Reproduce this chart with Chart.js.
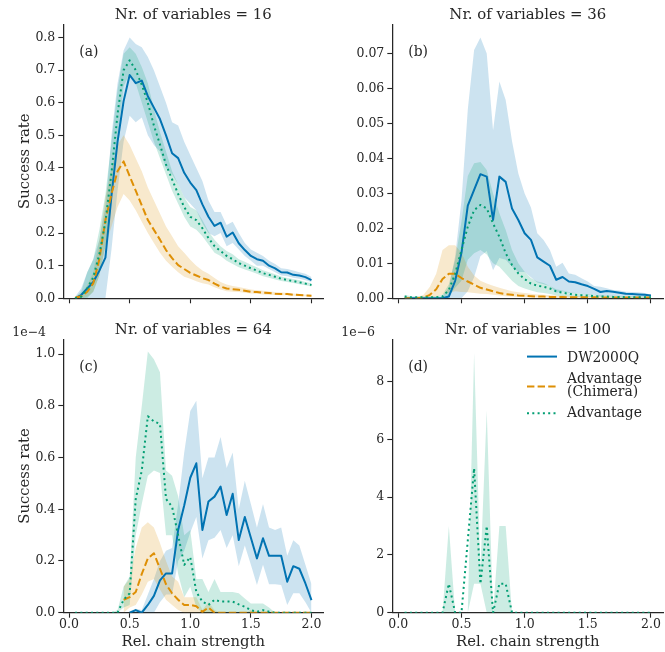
<!DOCTYPE html>
<html><head><meta charset="utf-8">
<script src="https://cdn.jsdelivr.net/npm/chart.js@4.4.1/dist/chart.umd.min.js"></script>
<style>
html,body{margin:0;padding:0;background:#fff;}
#wrap{position:relative;width:665px;height:652px;overflow:hidden;background:#fff;}
canvas{position:absolute;}
</style></head><body>
<div id="wrap">
<canvas id="ca" width="330" height="315" style="left:0;top:0;width:330px;height:315px"></canvas>
<canvas id="cb" width="335" height="315" style="left:330px;top:0;width:335px;height:315px"></canvas>
<canvas id="cc" width="330" height="337" style="left:0;top:315px;width:330px;height:337px"></canvas>
<canvas id="cd" width="335" height="337" style="left:330px;top:315px;width:335px;height:337px"></canvas>
</div>
<script>
// ---------- data ----------
const strengths = [0.05,0.10,0.15,0.20,0.25,0.30,0.35,0.40,0.45,0.50,0.55,0.60,0.65,0.70,0.75,0.80,0.85,0.90,0.95,1.00,
                   1.05,1.10,1.15,1.20,1.25,1.30,1.35,1.40,1.45,1.50,1.55,1.60,1.65,1.70,1.75,1.80,1.85,1.90,1.95,2.00];
const xTicks = [0, 0.5, 1.0, 1.5, 2.0];
const yTicks16 = [0, 0.1, 0.2, 0.3, 0.4, 0.5, 0.6, 0.7, 0.8];
const yTicks36 = [0, 0.01, 0.02, 0.03, 0.04, 0.05, 0.06, 0.07];
const yTicks64 = [0, 0.2, 0.4, 0.6, 0.8, 1.0];      // x 1e-4
const yTicks100 = [0, 2, 4, 6, 8];                  // x 1e-6
const titles = ['Nr. of variables = 16', 'Nr. of variables = 36', 'Nr. of variables = 64', 'Nr. of variables = 100'];
const panelLabels = ['(a)', '(b)', '(c)', '(d)'];
const offsetTexts = ['', '', '1e\u22124', '1e\u22126'];
const seriesNames = [['DW2000Q'], ['Advantage', '(Chimera)'], ['Advantage']];

// N = 16
const dw16    = [0.000,0.010,0.030,0.050,0.085,0.125,0.315,0.480,0.605,0.685,0.660,0.668,0.620,0.585,0.550,0.500,0.445,0.430,0.385,0.355,0.332,0.288,0.250,0.222,0.232,0.189,0.202,0.169,0.148,0.130,0.120,0.115,0.100,0.092,0.080,0.079,0.072,0.070,0.065,0.056];
const dw16Lo  = [0.000,0.000,0.000,0.000,0.000,0.000,0.150,0.330,0.480,0.560,0.540,0.555,0.500,0.470,0.450,0.400,0.380,0.350,0.310,0.290,0.270,0.230,0.200,0.190,0.200,0.160,0.170,0.150,0.130,0.115,0.100,0.100,0.090,0.080,0.070,0.068,0.063,0.060,0.055,0.050];
const dw16Hi  = [0.005,0.030,0.080,0.120,0.180,0.280,0.500,0.660,0.760,0.800,0.780,0.770,0.740,0.700,0.650,0.600,0.540,0.530,0.480,0.440,0.400,0.360,0.300,0.265,0.265,0.225,0.235,0.200,0.170,0.150,0.140,0.130,0.115,0.105,0.092,0.090,0.085,0.080,0.075,0.065];
const chim16   = [0.002,0.006,0.020,0.046,0.120,0.240,0.320,0.390,0.420,0.375,0.330,0.285,0.240,0.210,0.180,0.148,0.123,0.102,0.090,0.078,0.070,0.062,0.056,0.045,0.036,0.030,0.028,0.026,0.023,0.020,0.019,0.017,0.016,0.014,0.013,0.013,0.011,0.010,0.009,0.008];
const chim16Lo = [0.000,0.000,0.005,0.020,0.070,0.160,0.220,0.280,0.320,0.300,0.270,0.235,0.200,0.170,0.140,0.115,0.097,0.080,0.066,0.060,0.052,0.046,0.042,0.034,0.027,0.022,0.020,0.019,0.017,0.015,0.014,0.012,0.011,0.010,0.009,0.009,0.008,0.007,0.006,0.005];
const chim16Hi = [0.005,0.012,0.040,0.080,0.180,0.310,0.400,0.470,0.500,0.470,0.430,0.390,0.340,0.300,0.260,0.220,0.190,0.160,0.140,0.118,0.100,0.085,0.075,0.062,0.050,0.042,0.038,0.035,0.031,0.027,0.025,0.023,0.021,0.019,0.018,0.017,0.015,0.013,0.012,0.011];
const adv16   = [0.000,0.005,0.030,0.065,0.135,0.235,0.385,0.565,0.700,0.730,0.700,0.655,0.600,0.530,0.472,0.410,0.365,0.320,0.280,0.250,0.240,0.215,0.185,0.160,0.145,0.130,0.120,0.108,0.100,0.092,0.085,0.077,0.072,0.066,0.060,0.056,0.053,0.049,0.045,0.041];
const adv16Lo = [0.000,0.000,0.000,0.020,0.070,0.160,0.300,0.480,0.650,0.690,0.660,0.600,0.540,0.480,0.430,0.380,0.330,0.290,0.250,0.220,0.210,0.190,0.165,0.140,0.130,0.115,0.105,0.095,0.088,0.082,0.075,0.068,0.063,0.058,0.053,0.050,0.047,0.043,0.040,0.036];
const adv16Hi = [0.003,0.020,0.080,0.120,0.210,0.320,0.480,0.640,0.750,0.770,0.750,0.710,0.660,0.580,0.510,0.450,0.390,0.350,0.310,0.280,0.270,0.240,0.205,0.180,0.160,0.145,0.135,0.120,0.112,0.103,0.095,0.086,0.080,0.074,0.067,0.062,0.059,0.055,0.050,0.046];

// N = 36
const dw36    = [0,0,0,0,0,0,0,0.0005,0.005,0.013,0.0265,0.031,0.0355,0.0348,0.0224,0.0348,0.0333,0.0257,0.0224,0.0186,0.0167,0.0117,0.0105,0.0093,0.0053,0.0061,0.0048,0.0046,0.0040,0.0035,0.0027,0.0018,0.0021,0.0019,0.0016,0.0013,0.0012,0.0011,0.0010,0.0008];
const dw36Lo  = [0,0,0,0,0,0,0,0,0,0,0.002,0.006,0.012,0.0135,0.008,0.0115,0.011,0.009,0.0075,0.0075,0.006,0.0045,0.004,0.0035,0.0016,0.002,0.0016,0.0015,0.0013,0.0011,0.0010,0.0006,0.0007,0.0006,0.0005,0.0005,0.0004,0.0004,0.0004,0.0003];
const dw36Hi  = [0,0,0,0,0,0,0.0005,0.003,0.012,0.028,0.054,0.071,0.0746,0.070,0.048,0.062,0.0567,0.045,0.0357,0.030,0.026,0.0186,0.0167,0.0138,0.009,0.0102,0.0071,0.0067,0.0057,0.0048,0.0035,0.0033,0.0029,0.0024,0.0022,0.0019,0.0018,0.0017,0.0015,0.0010];
const chim36   = [0,0,0,0.0002,0.0010,0.0026,0.0055,0.0070,0.0070,0.0058,0.0048,0.0039,0.0030,0.0025,0.0020,0.0015,0.0012,0.0010,0.0008,0.0007,0.0006,0.0005,0.0005,0.0004,0.0004,0.0004,0.0003,0.0003,0.0003,0.0003,0.0003,0.0002,0.0002,0.0002,0.0002,0.0002,0.0002,0.0002,0.0002,0.0002];
const chim36Lo = [0,0,0,0,0,0.0005,0.0010,0.0015,0.0020,0.0018,0.0017,0.0015,0.0013,0.0012,0.0010,0.0008,0.0006,0.0005,0.0004,0.0003,0.0003,0.0002,0.0002,0.0002,0.0001,0.0001,0.0001,0.0001,0.0001,0.0001,0.0001,0.0001,0.0001,0.0001,0.0001,0.0001,0.0001,0.0001,0.0001,0.0001];
const chim36Hi = [0,0,0.0003,0.0010,0.0033,0.0070,0.0138,0.0152,0.0152,0.0130,0.0090,0.0065,0.0050,0.0042,0.0036,0.0030,0.0025,0.0020,0.0017,0.0015,0.0013,0.0011,0.0010,0.0009,0.0008,0.0008,0.0007,0.0007,0.0006,0.0006,0.0006,0.0005,0.0005,0.0005,0.0005,0.0004,0.0004,0.0004,0.0004,0.0004];
const adv36   = [0.0005,0.0003,0.0003,0.0003,0.0003,0.0003,0.0005,0.0024,0.0070,0.0138,0.0205,0.0252,0.0267,0.0257,0.0214,0.0176,0.0129,0.0095,0.0071,0.0055,0.0042,0.0036,0.0033,0.0028,0.0020,0.0016,0.0013,0.0010,0.0009,0.0008,0.0006,0.0005,0.0005,0.0004,0.0004,0.0003,0.0003,0.0003,0.0003,0.0003];
const adv36Lo = [0,0,0,0,0,0,0,0.0005,0.003,0.005,0.011,0.0129,0.0138,0.0125,0.010,0.009,0.007,0.005,0.0035,0.0028,0.0022,0.0017,0.0015,0.0012,0.0008,0.0006,0.0005,0.0004,0.0003,0.0003,0.0002,0.0002,0.0002,0.0001,0.0001,0.0001,0.0001,0.0001,0.0001,0.0001];
const adv36Hi = [0.001,0.0006,0.0006,0.0006,0.0006,0.0006,0.001,0.004,0.011,0.022,0.035,0.0386,0.039,0.0367,0.030,0.0243,0.0195,0.0138,0.010,0.0076,0.0058,0.0048,0.0044,0.0035,0.0026,0.0022,0.0018,0.0015,0.0013,0.0012,0.0010,0.0009,0.0008,0.0007,0.0007,0.0006,0.0006,0.0005,0.0005,0.0005];

// N = 64 (values in units of 1e-4)
const dw64    = [null,null,null,null,null,null,null,null,null,0.000,0.010,0.000,0.030,0.065,0.125,0.152,0.152,0.320,0.415,0.522,0.578,0.320,0.430,0.449,0.488,0.378,0.460,0.281,0.370,0.290,0.210,0.288,0.220,0.220,0.220,0.120,0.180,0.170,0.113,0.049];
const dw64Lo  = [null,null,null,null,null,null,null,null,null,0,0,0,0,0,0.04,0.07,0.07,0.20,0.24,0.31,0.37,0.21,0.28,0.29,0.32,0.25,0.30,0.18,0.26,0.185,0.107,0.185,0.11,0.11,0.107,0.03,0.075,0.075,0.04,0.0];
const dw64Hi  = [null,null,null,null,null,null,null,null,null,0.005,0.015,0.01,0.07,0.13,0.20,0.24,0.25,0.42,0.62,0.78,0.82,0.52,0.60,0.60,0.68,0.56,0.62,0.40,0.51,0.42,0.33,0.42,0.33,0.32,0.33,0.22,0.28,0.26,0.185,0.11];
const chim64   = [null,null,null,null,null,null,null,null,0.05,0.06,0.08,0.15,0.21,0.23,0.17,0.11,0.075,0.05,0.03,0.03,0.025,0.003,0.02,0,0,0,0,0,0,0,0,0,0,0,0,0,0,0,0,0];
const chim64Lo = [null,null,null,null,null,null,null,null,0.0,0.02,0.03,0.07,0.12,0.13,0.09,0.05,0.03,0.01,0,0,0,0,0,0,0,0,0,0,0,0,0,0,0,0,0,0,0,0,0,0];
const chim64Hi = [null,null,null,null,null,null,null,null,0.10,0.13,0.25,0.33,0.35,0.33,0.27,0.20,0.14,0.12,0.06,0.06,0.06,0.01,0.04,0.01,0,0,0,0,0,0.01,0,0,0,0,0,0,0,0,0,0];
const adv64   = [0,0,0,0,0,0,0,0,0.05,0.075,0.44,0.55,0.76,0.74,0.73,0.44,0.41,0.30,0.185,0.215,0.08,0.043,0.03,0.05,0.043,0.043,0.043,0.032,0.023,0.01,0.004,0.01,0.004,0,0,0,0,0,0,0];
const adv64Lo = [0,0,0,0,0,0,0,0,0.02,0.03,0.30,0.42,0.53,0.55,0.54,0.30,0.30,0.15,0.06,0.10,0.02,0,0,0,0,0,0,0,0,0,0,0,0,0,0,0,0,0,0,0];
const adv64Hi = [0,0,0,0,0,0,0,0.01,0.10,0.14,0.60,0.80,1.01,0.98,0.93,0.55,0.53,0.45,0.30,0.32,0.13,0.13,0.08,0.13,0.08,0.08,0.08,0.075,0.055,0.036,0.036,0.036,0.02,0,0,0,0,0,0,0];

// N = 100 (values in units of 1e-6); only Advantage reached solutions
const adv100   = [0,0,0,0,0,0,0,1,0,0,2.5,5,1,3,0,1,1,0,0,0,0,0,0,0,0,0,0,0,0,0,0,0,0,0,0,0,0,0,0,0];
const adv100Lo = [0,0,0,0,0,0,0,0,0,0,0,1,1,0,0,0,0,0,0,0,0,0,0,0,0,0,0,0,0,0,0,0,0,0,0,0,0,0,0,0,0];
const adv100Hi = [0,0,0,0,0,0,0,3,0,0,0,9,1.5,7,0,3,3,0,0,0,0,0,0,0,0,0,0,0,0,0,0,0,0,0,0,0,0,0,0,0];

// ---------- styles ----------
const TXT = '#262626';
const FONT = 'DejaVu Serif';
const STYLES = [
  {color: '#0173B2', band: 'rgba(1,115,178,0.2)',  dash: []},
  {color: '#DE8F05', band: 'rgba(222,143,5,0.2)',  dash: [7.4, 3.2]},
  {color: '#029E73', band: 'rgba(2,158,115,0.2)',  dash: [2, 3.3]}
];
Chart.defaults.font.family = FONT;
Chart.defaults.color = TXT;

function pts(arr) { return strengths.map((x, i) => ({x: x, y: arr[i]})); }

function buildDatasets(series) {
  const bands = [], lines = [];
  series.forEach((s, k) => {
    if (!s) return;
    const st = STYLES[k];
    bands.push({data: pts(s[1]), borderWidth: 0, pointRadius: 0, fill: false, order: 5 - k, backgroundColor: st.band});
    bands.push({data: pts(s[2]), borderWidth: 0, pointRadius: 0, fill: '-1', order: 5 - k, backgroundColor: st.band});
    lines.push({data: pts(s[0]), borderColor: st.color, borderWidth: 2, borderDash: st.dash, borderCapStyle: 'butt',
                borderJoinStyle: 'round', pointRadius: 0, fill: false, order: 2 - k, tension: 0});
  });
  return bands.concat(lines);
}

const annot = {
  id: 'annot',
  afterDraw(chart, args, o) {
    const {ctx, chartArea: ca} = chart;
    ctx.save();
    ctx.fillStyle = TXT;
    ctx.textBaseline = 'middle';
    ctx.textAlign = 'left';
    ctx.font = '13.9px "' + FONT + '"';
    ctx.fillText(o.label, ca.left + 16, ca.top + 28.5);
    if (o.offset) {
      ctx.font = '12.5px "' + FONT + '"';
      ctx.fillText(o.offset, ca.left - 51, ca.top - 6);
    }
    if (o.legend) {
      ctx.font = '13.9px "' + FONT + '"';
      const rows = [{line: 17.4, text: [18.8]}, {line: 47.4, text: [40.5, 53.0]}, {line: 74.0, text: [74.0]}];
      rows.forEach((r, k) => {
        const st = STYLES[k];
        ctx.save();
        ctx.strokeStyle = st.color; ctx.lineWidth = 2; ctx.setLineDash(st.dash); ctx.lineCap = 'butt';
        ctx.beginPath(); ctx.moveTo(ca.left + 134.7, ca.top + r.line); ctx.lineTo(ca.left + 164.7, ca.top + r.line); ctx.stroke();
        ctx.restore();
        seriesNames[k].forEach((t, j) => ctx.fillText(t, ca.left + 174.7, ca.top + r.text[j]));
      });
    }
    ctx.restore();
  }
};

function makeChart(id, p) {
  const axisCommon = {
    grid: {display: true, drawOnChartArea: false, drawTicks: true, tickLength: 5, tickColor: TXT, tickWidth: 1.1},
    border: {display: true, color: TXT, width: 1.25}
  };
  new Chart(document.getElementById(id), {
    type: 'line',
    data: {datasets: buildDatasets(p.series)},
    plugins: [annot],
    options: {
      responsive: false, animation: false, devicePixelRatio: 1, events: [],
      layout: {padding: {left: 0, right: p.rightPad, top: 0, bottom: 0}},
      plugins: {
        legend: {display: false}, tooltip: {enabled: false},
        title: {display: true, text: p.title, font: {size: 14.9, weight: 'normal'}, color: TXT,
                padding: {top: 6.3, bottom: 0}, fullSize: false},
        annot: {label: p.label, offset: p.offset, legend: p.legend}
      },
      scales: {
        x: Object.assign({
          type: 'linear', min: -0.0475, max: 2.0975,
          afterBuildTicks: s => { s.ticks = xTicks.map(v => ({value: v})); },
          afterFit: s => { s.height = p.bottomH; },
          ticks: {display: p.xLabels, autoSkip: false, maxRotation: 0, padding: 0, font: {size: 12.5}, color: TXT,
                  callback: v => Number(v).toFixed(1)},
          title: {display: p.xLabels, text: 'Rel. chain strength', font: {size: 14.8}, color: TXT, padding: {top: 0, bottom: 0.6}}
        }, axisCommon),
        y: Object.assign({
          type: 'linear', min: 0, max: p.yMax,
          afterBuildTicks: s => { s.ticks = p.yTicks.map(v => ({value: v})); },
          afterFit: s => { s.width = p.leftW; },
          ticks: {autoSkip: false, padding: 3, font: {size: 12.5}, color: TXT, callback: p.yFmt},
          title: {display: p.yTitle, text: 'Success rate', font: {size: 14.8}, color: TXT, padding: {top: 16.6}}
        }, axisCommon)
      }
    }
  });
}

makeChart('ca', {title: titles[0], label: panelLabels[0], offset: offsetTexts[0], legend: false,
  series: [[dw16, dw16Lo, dw16Hi], [chim16, chim16Lo, chim16Hi], [adv16, adv16Lo, adv16Hi]],
  yMax: 0.841, yTicks: yTicks16, yFmt: v => Number(v).toFixed(1), yTitle: true, leftW: 63.3, rightPad: 6.7,
  bottomH: 16.7, xLabels: false});
makeChart('cb', {title: titles[1], label: panelLabels[1], offset: offsetTexts[1], legend: false,
  series: [[dw36, dw36Lo, dw36Hi], [chim36, chim36Lo, chim36Hi], [adv36, adv36Lo, adv36Hi]],
  yMax: 0.0784, yTicks: yTicks36, yFmt: v => Number(v).toFixed(2), yTitle: false, leftW: 62.3, rightPad: 1.7,
  bottomH: 16.7, xLabels: false});
makeChart('cc', {title: titles[2], label: panelLabels[2], offset: offsetTexts[2], legend: false,
  series: [[dw64, dw64Lo, dw64Hi], [chim64, chim64Lo, chim64Hi], [adv64, adv64Lo, adv64Hi]],
  yMax: 1.058, yTicks: yTicks64, yFmt: v => Number(v).toFixed(1), yTitle: true, leftW: 63.3, rightPad: 6.7,
  bottomH: 39.3, xLabels: true});
makeChart('cd', {title: titles[3], label: panelLabels[3], offset: offsetTexts[3], legend: true,
  series: [null, null, [adv100, adv100Lo, adv100Hi]],
  yMax: 9.468, yTicks: yTicks100, yFmt: v => String(Math.round(v)), yTitle: false, leftW: 62.3, rightPad: 1.7,
  bottomH: 39.3, xLabels: true});
</script>
</body></html>
